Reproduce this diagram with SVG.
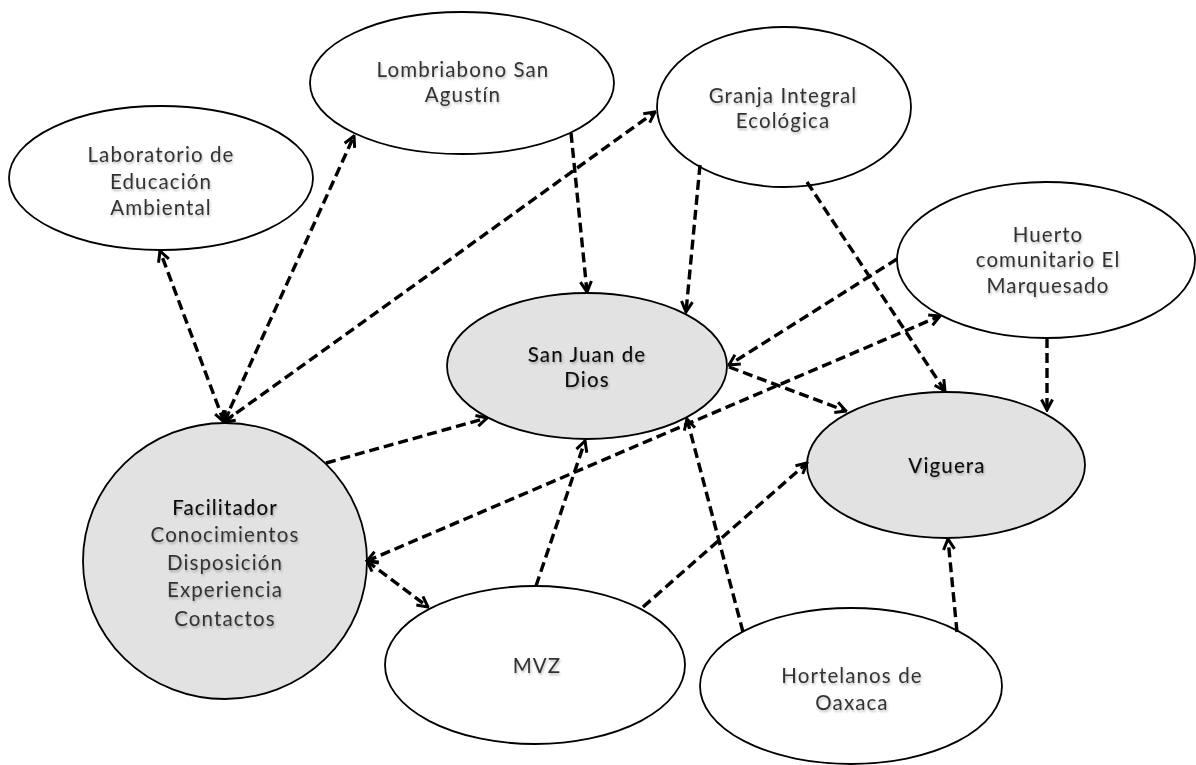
<svg xmlns="http://www.w3.org/2000/svg" width="1196" height="765" viewBox="0 0 1196 765">
<defs>
<marker id="arr" viewBox="0 0 14 14" refX="12.5" refY="7" markerWidth="14" markerHeight="14" markerUnits="userSpaceOnUse" orient="auto-start-reverse">
<path d="M2,1.5 L12.5,7 L2,12.5" fill="none" stroke="#000" stroke-width="3" stroke-linejoin="miter"/>
</marker>
<filter id="sh" x="-20%" y="-20%" width="140%" height="160%">
<feDropShadow dx="1" dy="2" stdDeviation="1.2" flood-color="#000" flood-opacity="0.25"/>
</filter>
</defs>
<style>
.n{fill:#fff;stroke:#000;stroke-width:1.8}
.g{fill:#e2e2e2;stroke:#000;stroke-width:1.8}
.t{font-family:Lato,"Noto Sans",sans-serif;font-size:20.5px;letter-spacing:1.1px;fill:#333;text-anchor:middle;filter:url(#sh)}
.b{fill:#111;font-weight:500}
.c line{stroke:#000;stroke-width:3.4;stroke-dasharray:10 5;fill:none}
.e{marker-end:url(#arr)}
.d{marker-start:url(#arr);marker-end:url(#arr)}
</style>
<rect width="1196" height="765" fill="#fff"/>
<g id="laboratorio"><ellipse class="n" cx="161" cy="178" rx="152" ry="72"/><text class="t"><tspan x="161" y="162">Laboratorio de</tspan><tspan x="161" y="189">Educación</tspan><tspan x="161" y="215">Ambiental</tspan></text></g>
<g id="lombriabono"><ellipse class="n" cx="462" cy="83" rx="152" ry="71"/><text class="t"><tspan x="463" y="77">Lombriabono San</tspan><tspan x="463" y="102">Agustín</tspan></text></g>
<g id="granja"><ellipse class="n" cx="784" cy="107" rx="127" ry="80"/><text class="t"><tspan x="783" y="103">Granja Integral</tspan><tspan x="783" y="128">Ecológica</tspan></text></g>
<g id="huerto"><ellipse class="n" cx="1046" cy="260" rx="149" ry="78"/><text class="t"><tspan x="1048" y="242">Huerto</tspan><tspan x="1048" y="267">comunitario El</tspan><tspan x="1048" y="293">Marquesado</tspan></text></g>
<g id="sanjuan"><ellipse class="g" cx="587" cy="366" rx="140" ry="73"/><text class="t b"><tspan x="587" y="362">San Juan de</tspan><tspan x="587" y="387">Dios</tspan></text></g>
<g id="viguera"><ellipse class="g" cx="946" cy="465" rx="139" ry="73"/><text class="t b"><tspan x="947" y="473">Viguera</tspan></text></g>
<g id="facilitador"><ellipse class="g" cx="225" cy="561" rx="142" ry="138"/><text class="t"><tspan class="b" x="225" y="515">Facilitador</tspan><tspan x="225" y="542">Conocimientos</tspan><tspan x="225" y="570">Disposición</tspan><tspan x="225" y="597">Experiencia</tspan><tspan x="225" y="626">Contactos</tspan></text></g>
<g id="mvz"><ellipse class="n" cx="535" cy="665" rx="150" ry="79"/><text class="t"><tspan x="537" y="673">MVZ</tspan></text></g>
<g id="hortelanos"><ellipse class="n" cx="851" cy="686" rx="151" ry="78"/><text class="t"><tspan x="852" y="683">Hortelanos de</tspan><tspan x="852" y="710">Oaxaca</tspan></text></g>
<g id="connectors" class="c">
<line class="d" x1="224" y1="422" x2="160" y2="251"/>
<line class="d" x1="224" y1="422" x2="354" y2="136"/>
<line class="d" x1="224" y1="422" x2="655" y2="112"/>
<line class="e" x1="571" y1="133" x2="587" y2="292"/>
<line class="e" x1="700" y1="165" x2="686" y2="312"/>
<line class="e" x1="807" y1="182" x2="945" y2="391"/>
<line class="e" x1="897" y1="259" x2="729" y2="365"/>
<line class="e" x1="729" y1="367" x2="846" y2="411"/>
<line class="e" x1="1047" y1="338" x2="1047" y2="410"/>
<line class="e" x1="326" y1="463" x2="487" y2="418"/>
<line class="d" x1="367" y1="561" x2="940" y2="316"/>
<line class="d" x1="367" y1="561" x2="428" y2="607"/>
<line class="e" x1="536" y1="586" x2="585" y2="441"/>
<line class="e" x1="643" y1="607" x2="807" y2="463"/>
<line class="e" x1="743" y1="632" x2="687" y2="419"/>
<line class="e" x1="957" y1="632" x2="948" y2="539"/>
</g>
</svg>
